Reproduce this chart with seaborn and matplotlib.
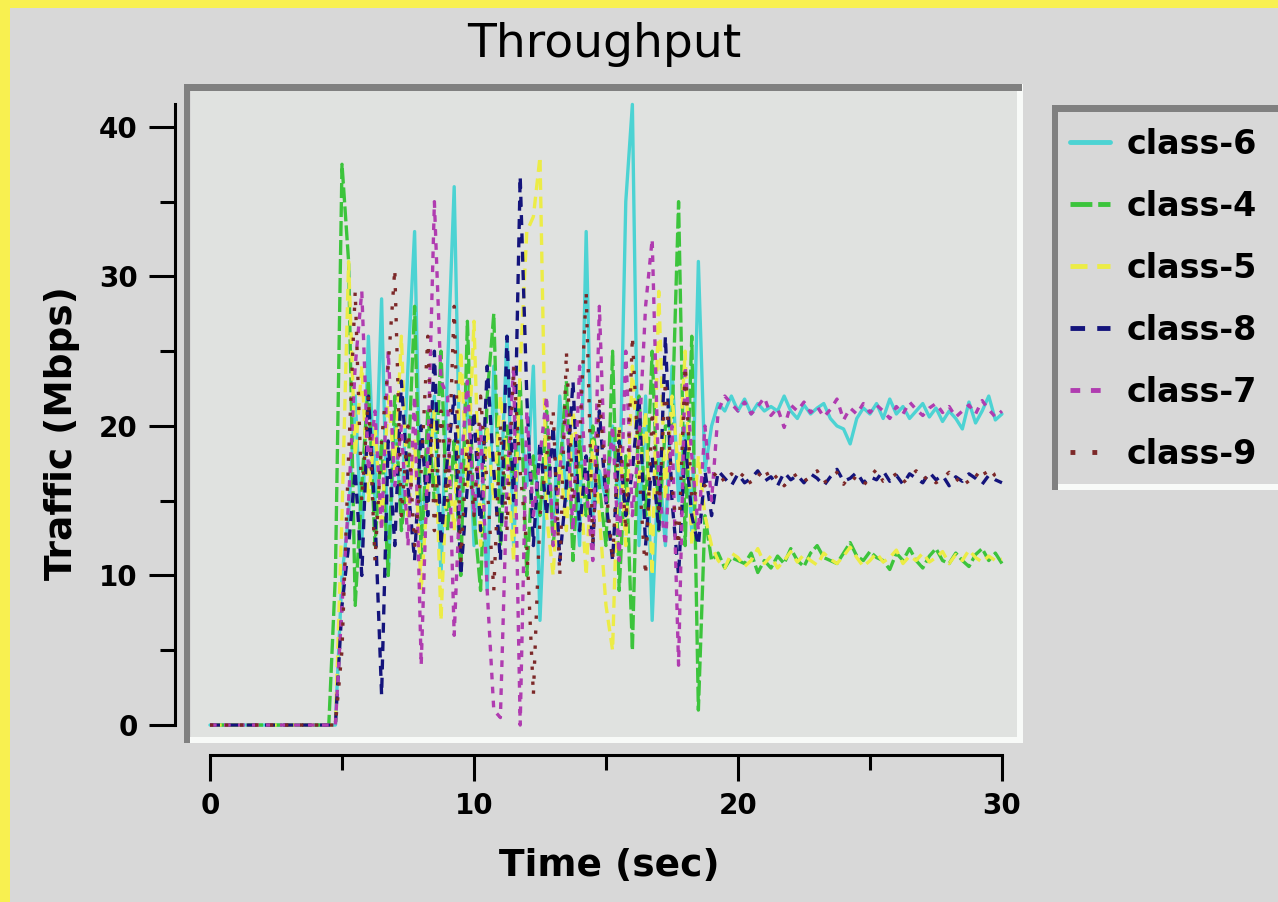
import numpy as np
import pandas as pd
import seaborn as sns
import matplotlib.pyplot as plt
from matplotlib.patches import Rectangle
from matplotlib.ticker import MultipleLocator

# sample times (sec), one sample every 0.25 s
time_step = 0.25
time_sec = np.round(np.arange(0, 30 + time_step / 2, time_step), 2)

# traffic per class (Mbps)
class_6 = [0, 0, 0, 0, 0, 0, 0, 0, 0, 0,
           0, 0, 0, 0, 0, 0, 0, 0, 0, 0,
           10, 14, 22, 12, 26, 15, 28.5, 10, 20, 14,
           24, 33, 12, 18, 22, 10, 24, 36, 14, 23,
           12, 20, 9, 24, 15, 26, 12, 21, 16, 24,
           7, 18, 13, 22, 15, 19, 12, 33, 14, 17,
           15, 20, 14, 35, 41.5, 12, 22, 7, 18, 12,
           24, 15, 20, 13, 31, 17, 20, 21.5, 21, 22,
           21, 21.8, 20.8, 21.5, 21, 21.3, 21, 22, 21, 20.5,
           21.4, 20.8, 21.2, 21.5, 20.5, 20, 19.8, 18.8, 20.5, 21.2,
           20.8, 21.5, 20.5, 21.8, 20.8, 21.3, 20.5, 21, 21.5, 20.6,
           21.2, 20.3, 21, 20.5, 19.8, 21.6, 20.2, 21, 22, 20.4,
           20.8]

class_4 = [0, 0, 0, 0, 0, 0, 0, 0, 0, 0,
           0, 0, 0, 0, 0, 0, 0, 0, 0, 10,
           37.5, 31, 8, 16, 23, 12, 19, 10, 22, 13,
           17, 28, 11, 21, 15, 25, 13, 19, 10, 27,
           14, 9, 22, 27.5, 12, 20, 16, 23, 10, 18,
           14, 21, 12, 17, 23, 11, 19, 14, 20, 16,
           12, 25, 9, 18, 5, 22, 14, 25, 13, 20,
           20, 35, 12, 26, 1, 14, 11, 11.5, 10.5, 11.2,
           11, 10.8, 11.5, 10.2, 11, 10.5, 11.3, 10.8, 11.8, 11,
           10.6, 11.5, 12, 11.2, 11, 10.8, 11.5, 12.2, 11.3, 11,
           11.6, 11.2, 11, 10.4, 11.5, 11, 11.8, 11, 10.5, 11.3,
           11.8, 11, 10.8, 11.5, 11, 10.6, 11.4, 11.8, 11, 11.5,
           10.8]

class_5 = [0, 0, 0, 0, 0, 0, 0, 0, 0, 0,
           0, 0, 0, 0, 0, 0, 0, 0, 0, 0,
           14, 31, 18, 24, 15, 20, 13, 22, 17, 26,
           14, 19, 9, 16, 21, 7, 18, 13, 25, 16,
           27, 12, 20, 15, 22, 18, 11, 24, 33, 34,
           38, 14, 10, 18, 13, 21, 17, 10, 19, 14,
           8, 5, 20, 12, 24, 16, 21, 10, 29, 15,
           22, 17, 25, 12, 18, 14, 12, 11, 10.5, 11.5,
           11.2, 10.6, 11, 11.8, 10.8, 11.3, 10.5, 11, 11.6, 10.9,
           11.4, 11, 10.7, 11.5, 11.1, 10.8, 11.3, 11.9, 11.2, 10.6,
           11, 11.5, 10.9, 11.2, 11.7, 10.8, 11.3, 11, 11.5, 10.9,
           11.2, 11.6, 10.8, 11.4, 11, 11.7, 11.2, 10.9, 11.3, 11,
           11.1]

class_8 = [0, 0, 0, 0, 0, 0, 0, 0, 0, 0,
           0, 0, 0, 0, 0, 0, 0, 0, 0, 0,
           8, 12, 17, 10, 22, 14, 2, 19, 12, 23,
           16, 11, 20, 14, 25, 12, 18, 22, 10, 16,
           21, 13, 24, 17, 11, 26, 15, 36.7, 22, 12,
           19, 14, 20, 11, 16, 23, 13, 18, 12, 21,
           15, 11, 19, 14, 17, 22, 12, 18, 13, 26,
           15, 10, 19, 14, 12, 17, 14, 17, 16.5, 16,
           16.8, 16.2, 16.5, 17, 16.3, 16.6, 16, 16.9, 16.4, 16.7,
           16.2, 16.8, 16.5, 16, 16.6, 17.1, 16.3, 16.5, 16.9, 16.2,
           16.6, 16.4, 17, 16.3, 16.7, 16.1, 16.8, 16.5, 16.2, 16.9,
           16.4, 16.7, 16, 16.6, 16.3, 16.8, 16.5, 16.1, 16.7, 16.4,
           16.2]

class_7 = [0, 0, 0, 0, 0, 0, 0, 0, 0, 0,
           0, 0, 0, 0, 0, 0, 0, 0, 0, 0,
           8, 15, 24, 29, 17, 21, 13, 25, 16, 20,
           12, 22, 4, 18, 35, 23, 22, 6, 17, 23,
           14, 20, 9, 1, 0.5, 16, 24, 0, 21, 14,
           18, 22, 12, 17, 21, 13, 24, 16, 11, 28,
           15, 20, 11, 25, 14, 19, 28, 32.5, 16, 12,
           20, 4, 24, 18, 13, 20, 15, 21, 22, 21.5,
           21, 21.6, 20.8, 21.3, 21.9, 20.7, 21.2, 19.9, 21.4, 21,
           21.6, 20.9, 21.3, 20.6, 21.1, 21.8, 20.4, 21.2, 20.8, 21.5,
           20.9, 21.4, 21, 20.5, 21.3, 20.8, 21.6, 21.1, 20.7, 21.2,
           21.5, 20.9, 21.3, 20.6, 21, 21.4, 20.8, 21.7, 21.1, 20.6,
           21]

class_9 = [0, 0, 0, 0, 0, 0, 0, 0, 0, 0,
           0, 0, 0, 0, 0, 0, 0, 0, 0, 0,
           5, 18, 29, 15, 22, 11, 19, 24, 30.5, 14,
           20, 12, 17, 26, 13, 21, 15, 28, 11, 19,
           14, 22, 16, 9, 20, 13, 24, 17, 12, 2,
           14, 18, 21, 10, 25, 15, 19, 29, 12, 22,
           16, 11, 20, 13, 26, 17, 10, 21, 14, 23,
           16, 12, 24, 15, 16, 16, 16.5, 17, 16.2, 16.8,
           16.4, 16.9, 16.1, 16.6, 17.2, 16.3, 16.7, 16, 16.5, 16.8,
           16.3, 16.6, 17, 16.2, 16.5, 16.9, 16.1, 16.7, 16.4, 16,
           16.6, 17.1, 16.3, 16.5, 16.8, 16.2, 16.6, 17, 16.4, 16.7,
           16.2, 16.5, 16.9, 16.3, 16.7, 16.1, 16.6, 17.2, 16.4, 16.8,
           17]

class_names = ['class-6', 'class-4', 'class-5', 'class-8', 'class-7', 'class-9']

# look of each class
line_colors = {'class-6': '#4cd3d3', 'class-4': '#3cc43c', 'class-5': '#ecec46',
               'class-8': '#14147c', 'class-7': '#b03cb0', 'class-9': '#7c2828'}
line_dashes = {'class-6': '', 'class-4': (4.5, 1.2), 'class-5': (3.5, 2),
               'class-8': (3, 2.5), 'class-7': (2, 2.2), 'class-9': (1, 3.5)}

df = pd.DataFrame({'time': time_sec, 'class-6': class_6, 'class-4': class_4,
                   'class-5': class_5, 'class-8': class_8, 'class-7': class_7,
                   'class-9': class_9})
long_df = df.melt(id_vars='time', var_name='class', value_name='traffic')

sns.set_style('ticks')
plt.rcParams['font.family'] = ['DejaVu Sans']

W, H = 1278, 902
fig = plt.figure(figsize=(W / 100, H / 100), dpi=100, facecolor='#f8f050')


def fx(x):
    return x / W


def fy(y):
    return 1 - y / H


def box(x0, y0, x1, y1, color, z=1):
    # plain filled rectangle given in picture pixels
    fig.add_artist(Rectangle((fx(x0), fy(y1)), fx(x1) - fx(x0), fy(y0) - fy(y1),
                             transform=fig.transFigure, facecolor=color,
                             edgecolor='none', zorder=z))


# gray page inside the yellow border
box(10, 8, W, H, '#d8d8d8', z=-10)

ax = fig.add_axes([fx(191), fy(737), fx(1017) - fx(191), fy(91) - fy(737)])
ax.set_facecolor('#e0e2e0')

sns.lineplot(data=long_df, x='time', y='traffic', hue='class', style='class',
             hue_order=class_names, style_order=class_names,
             palette=line_colors, dashes=line_dashes, linewidth=2.4,
             errorbar=None, ax=ax)

ax.set_xlim(-0.72, 30.57)
ax.set_ylim(-0.8, 42.4)

# detached axis lines like the old graph widget
ax.spines['top'].set_visible(False)
ax.spines['right'].set_visible(False)
ax.spines['left'].set_position(('outward', 11.5))
ax.spines['bottom'].set_position(('outward', 13))
ax.spines['left'].set_bounds(0, 41.5)
ax.spines['bottom'].set_bounds(0, 30)
for side in ['left', 'bottom']:
    ax.spines[side].set_linewidth(2.2)
    ax.spines[side].set_color('black')

ax.xaxis.set_major_locator(MultipleLocator(10))
ax.xaxis.set_minor_locator(MultipleLocator(5))
ax.yaxis.set_major_locator(MultipleLocator(10))
ax.yaxis.set_minor_locator(MultipleLocator(5))
ax.tick_params(which='major', length=18.7, width=2.2, pad=8, labelsize=20,
               color='black', labelcolor='black')
ax.tick_params(which='minor', length=10.8, width=2.2, color='black')
for lbl in ax.get_xticklabels() + ax.get_yticklabels():
    lbl.set_fontweight('bold')

ax.set_title('Throughput', fontsize=34, pad=24.5, color='black')
ax.set_xlabel('Time (sec)', fontsize=27, fontweight='bold', color='black')
ax.set_ylabel('Traffic (Mbps)', fontsize=27, fontweight='bold', color='black')
ax.xaxis.set_label_coords(0.507, -0.1718)
ax.yaxis.set_label_coords(-0.1344, 0.4706)

# sunken frame round the plot area
box(184, 737, 1023, 743, '#f8faf8')
box(1017, 84, 1023, 743, '#f8faf8')
box(184, 84, 1022, 91, '#808080')
box(184, 84, 190, 743, '#808080')

# legend, moved out to the right
old_leg = ax.get_legend()
handles = old_leg.legend_handles
labels = [t.get_text() for t in old_leg.get_texts()]
old_leg.remove()
leg = fig.legend(handles, labels, loc='upper left',
                 bbox_to_anchor=(fx(1070), fy(128)), frameon=False,
                 borderpad=0, borderaxespad=0, handlelength=1.2,
                 handletextpad=0.5, labelspacing=0.87,
                 prop={'weight': 'bold', 'size': 24})
for h in leg.legend_handles:
    h.set_linewidth(3.5)
for t in leg.get_texts():
    t.set_color('black')

box(1052, 484, W, 490, '#f8faf8')
box(1052, 105, W, 112, '#808080')
box(1052, 105, 1058, 490, '#808080')

fig.savefig('out.png', dpi=100, facecolor=fig.get_facecolor())
